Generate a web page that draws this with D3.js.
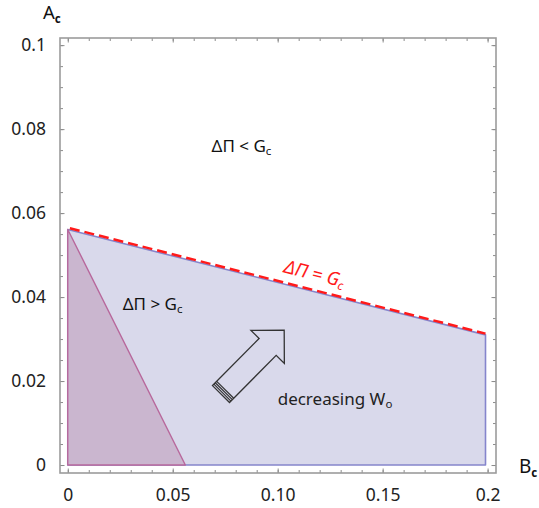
<!DOCTYPE html>
<html>
<head>
<meta charset="utf-8">
<script src="https://cdn.jsdelivr.net/npm/d3@7"></script>
<style>
  body { margin: 0; background: #fff; }
  svg { display: block; font-family: "Noto Sans", "Open Sans", sans-serif; }
</style>
</head>
<body>
<svg id="chart" width="539" height="508"></svg>
<script>
"use strict";

// tick values and labels
const xMajor = [0, 0.05, 0.10, 0.15, 0.2];
const xLabels = ["0", "0.05", "0.10", "0.15", "0.2"];
const xMinor = d3.range(0, 0.2001, 0.01);
const yMajor = [0, 0.02, 0.04, 0.06, 0.08, 0.1];
const yLabels = ["0", "0.02", "0.04", "0.06", "0.08", "0.1"];
const yMinor = d3.range(0, 0.1001, 0.005);

// region where dPi > Gc (B, A corners)
const regionB = [0, 0.199, 0.199, 0];
const regionA = [0.0561, 0.031, 0, 0];

// inner triangle
const triB = [0, 0.056, 0];
const triA = [0.0561, 0, 0];

// boundary dPi = Gc
const boundB = [0.001, 0.199];
const boundA = [0.0564, 0.0313];

// arrow: tail centre -> tip
const arrowB = [0.073, 0.1031];
const arrowA = [0.0169, 0.0321];

const svg = d3.select("#chart");
const W = 539, H = 508;
const frame = {left: 60, right: 496, top: 38, bottom: 473};

const x = d3.scaleLinear().domain([-0.0037, 0.204]).range([frame.left, frame.right]);
const y = d3.scaleLinear().domain([-0.0019, 0.1017]).range([frame.bottom, frame.top]);

svg.append("rect").attr("width", W).attr("height", H).attr("fill", "#fff");

const toPts = (bs, as) => bs.map((b, i) => [x(b), y(as[i])]);

// regions
svg.append("polygon")
    .attr("points", toPts(regionB, regionA).join(" "))
    .attr("fill", "#d9d9eb")
    .attr("stroke", "#8585cc")
    .attr("stroke-width", 1.6)
    .attr("stroke-linejoin", "round");

svg.append("polygon")
    .attr("points", toPts(triB, triA).join(" "))
    .attr("fill", "#cab6cf")
    .attr("stroke", "#b8689c")
    .attr("stroke-width", 1.4)
    .attr("stroke-linejoin", "round");

// dashed boundary
svg.append("path")
    .attr("d", d3.line()(toPts(boundB, boundA)))
    .attr("fill", "none")
    .attr("stroke", "#ff1a1a")
    .attr("stroke-width", 2.5)
    .attr("stroke-dasharray", "10,5");

// axes (ticks inside the frame)
function tickAxis(axisFn, translate, values, size, labels, pad) {
    const a = axisFn.tickValues(values).tickSizeInner(-size).tickSizeOuter(0).tickPadding(pad || 3);
    a.tickFormat(labels ? (d, i) => labels[i] : "");
    const g = svg.append("g").attr("transform", translate).call(a);
    g.select(".domain").remove();
    g.selectAll("line").attr("stroke", "#8c8c8c").attr("stroke-width", 1);
    g.selectAll("text").attr("font-size", 17.5).attr("fill", "#222").attr("font-family", "Noto Sans, sans-serif");
    return g;
}

const atBottom = "translate(0," + frame.bottom + ")";
const atTop = "translate(0," + frame.top + ")";
const atLeft = "translate(" + frame.left + ",0)";
const atRight = "translate(" + frame.right + ",0)";

tickAxis(d3.axisBottom(x), atBottom, xMinor, 3);
tickAxis(d3.axisBottom(x), atBottom, xMajor, 4.5, xLabels, 16);
tickAxis(d3.axisTop(x), atTop, xMinor, 3);
tickAxis(d3.axisTop(x), atTop, xMajor, 4.5);
tickAxis(d3.axisLeft(y), atLeft, yMinor, 3);
tickAxis(d3.axisLeft(y), atLeft, yMajor, 4.5, yLabels, 14);
tickAxis(d3.axisRight(y), atRight, yMinor, 3);
tickAxis(d3.axisRight(y), atRight, yMajor, 4.5);

svg.append("rect")
    .attr("x", frame.left).attr("y", frame.top)
    .attr("width", frame.right - frame.left).attr("height", frame.bottom - frame.top)
    .attr("fill", "none")
    .attr("stroke", "#9c9c9c")
    .attr("stroke-width", 1.6);

// text with a subscript
function subText(px, py, main, sub, size, subSize, subBold, fill, subDy) {
    const t = svg.append("text")
        .attr("x", px).attr("y", py)
        .attr("font-size", size)
        .attr("fill", fill || "#111");
    t.append("tspan").text(main);
    t.append("tspan")
        .attr("font-size", subSize)
        .attr("font-weight", subBold ? "bold" : null)
        .attr("dy", subDy)
        .text(sub);
    return t;
}

// axis titles
subText(43, 18.5, "A", "c", 18.5, 11.5, true, "#111", 4);
subText(519, 473, "B", "c", 19, 11.5, true, "#111", 4);

// region labels
subText(x(0.0685), y(0.0746), "\u0394\u03A0 < G", "c", 17, 11.5, false, "#111", 3);
subText(x(0.0262), y(0.0369), "\u0394\u03A0 > G", "c", 17, 11.5, false, "#111", 3);
subText(x(0.1), y(0.0143), "decreasing W", "o", 17, 11.5, false, "#222", 3);

// boundary label, rotated along the line
const p0 = [x(boundB[0]), y(boundA[0])], p1 = [x(boundB[1]), y(boundA[1])];
const ang = Math.atan2(p1[1] - p0[1], p1[0] - p0[0]) * 180 / Math.PI;
const lx = x(0.1168), ly = y(0.0441);
subText(0, 0, "\u0394\u03A0 = G", "c", 18.5, 12, false, "#ff1a1a", 3)
    .attr("text-anchor", "middle")
    .attr("font-style", "italic")
    .attr("transform", "translate(" + lx + "," + ly + ") rotate(" + ang + ")");

// block arrow
const a0 = [x(arrowB[0]), y(arrowA[0])], a1 = [x(arrowB[1]), y(arrowA[1])];
const dx = a1[0] - a0[0], dy = a1[1] - a0[1];
const L = Math.hypot(dx, dy);
const u = [dx / L, dy / L], n = [-u[1], u[0]];
const headLen = 23.5, headHalf = 23.5, shaftHalf = 12;
const at = (s, t) => [a0[0] + u[0] * s + n[0] * t, a0[1] + u[1] * s + n[1] * t];
const arrowPts = [
    at(0, shaftHalf), at(L - headLen, shaftHalf), at(L - headLen, headHalf),
    at(L, 0),
    at(L - headLen, -headHalf), at(L - headLen, -shaftHalf), at(0, -shaftHalf)
];
svg.append("polygon")
    .attr("points", arrowPts.join(" "))
    .attr("fill", "none")
    .attr("stroke", "#333")
    .attr("stroke-width", 1.3)
    .attr("stroke-linejoin", "miter");

[2, 4, 6].forEach(s => {
    svg.append("path")
        .attr("d", d3.line()([at(s, shaftHalf), at(s, -shaftHalf)]))
        .attr("stroke", "#333")
        .attr("stroke-width", 1.2);
});
</script>
</body>
</html>
